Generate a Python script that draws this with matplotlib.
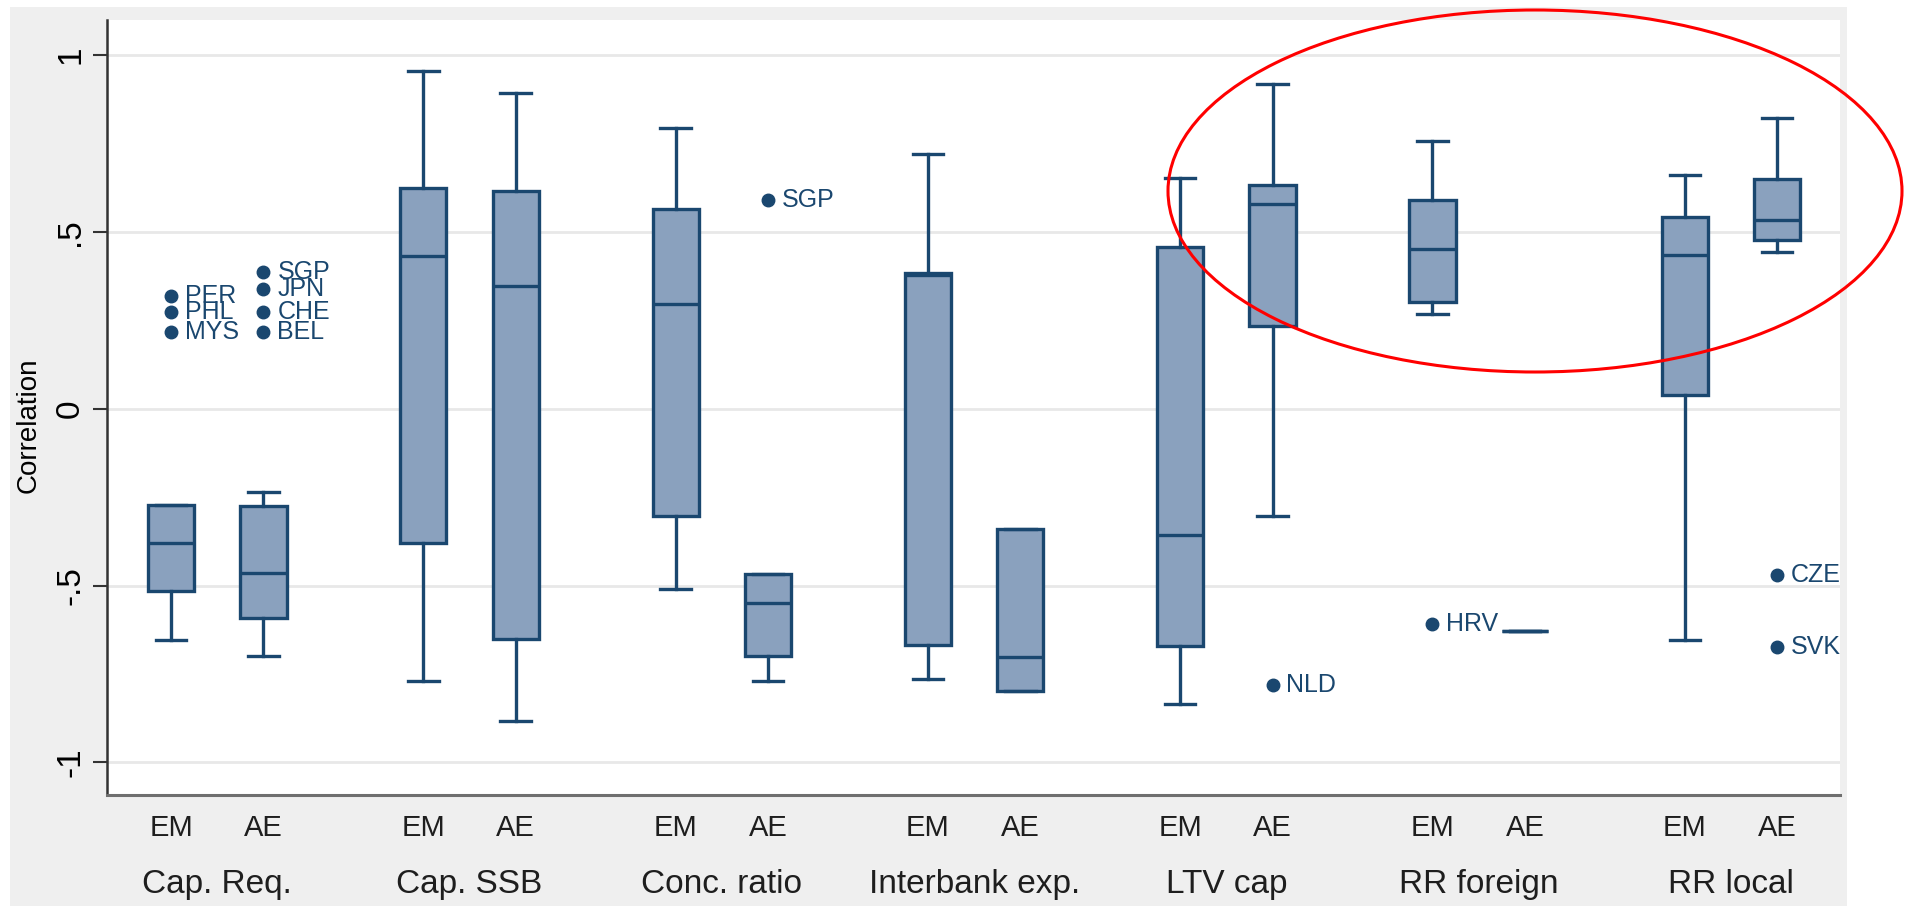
import numpy as np
import matplotlib.pyplot as plt
from matplotlib.patches import Ellipse, Rectangle
from matplotlib.transforms import blended_transform_factory

plt.rcParams['font.family'] = ['Liberation Sans', 'DejaVu Sans']

# correlation box plots by policy tool, emerging (EM) vs advanced (AE) economies
groups = ["Cap. Req.", "Cap. SSB", "Conc. ratio", "Interbank exp.",
          "LTV cap", "RR foreign", "RR local"]
sides = ["EM", "AE"]

em_whislo = [-0.655, -0.771, -0.510, -0.763, -0.836, 0.269, -0.654]
em_q1     = [-0.514, -0.379, -0.302, -0.667, -0.670, 0.301, 0.038]
em_med    = [-0.379, 0.432, 0.296, 0.378, -0.356, 0.451, 0.435]
em_q3     = [-0.271, 0.624, 0.566, 0.383, 0.456, 0.589, 0.543]
em_whishi = [-0.271, 0.954, 0.793, 0.721, 0.652, 0.758, 0.660]

ae_whislo = [-0.700, -0.882, -0.771, -0.797, -0.303, -0.629, 0.443]
ae_q1     = [-0.591, -0.650, -0.699, -0.797, 0.233, -0.629, 0.476]
ae_med    = [-0.463, 0.347, -0.549, -0.703, 0.579, -0.629, 0.533]
ae_q3     = [-0.275, 0.615, -0.467, -0.340, 0.633, -0.629, 0.649]
ae_whishi = [-0.235, 0.894, -0.467, -0.340, 0.917, -0.629, 0.822]

# outside values: group index, side (0 = EM, 1 = AE), value, country
out_group = [0, 0, 0, 0, 0, 0, 0, 2, 4, 5, 6, 6]
out_side  = [0, 0, 0, 1, 1, 1, 1, 1, 1, 0, 1, 1]
out_value = [0.319, 0.274, 0.218, 0.386, 0.339, 0.273, 0.217,
             0.590, -0.781, -0.609, -0.469, -0.673]
out_label = ["PER", "PHL", "MYS", "SGP", "JPN", "CHE", "BEL",
             "SGP", "NLD", "HRV", "CZE", "SVK"]

yticks = [-1, -0.5, 0, 0.5, 1]
ytick_labels = ["-1", "-.5", "0", ".5", "1"]

navy = "#1a476f"
fill = "#8aa1be"

W, H = 1905, 906
fig = plt.figure(figsize=(W / 100, H / 100), dpi=100)
fig.patches.append(Rectangle((10 / W, 0), 1837 / W, 899 / H, transform=fig.transFigure,
                             facecolor="#efefef", edgecolor="none", zorder=-10))
ax = fig.add_axes([107 / W, 111 / H, 1733 / W, 775 / H])
ax.set_facecolor("white")

gap = 2.73
em_pos = np.arange(len(groups)) * gap
ae_pos = em_pos + 1


def make_stats(lo, q1, med, q3, hi):
    return [dict(whislo=a, q1=b, med=c, q3=d, whishi=e, fliers=[])
            for a, b, c, d, e in zip(lo, q1, med, q3, hi)]


stats = (make_stats(em_whislo, em_q1, em_med, em_q3, em_whishi)
         + make_stats(ae_whislo, ae_q1, ae_med, ae_q3, ae_whishi))
positions = list(em_pos) + list(ae_pos)
lw = 2.4
ax.bxp(stats, positions=positions, widths=0.5, capwidths=0.33,
       patch_artist=True, showfliers=False, manage_ticks=False,
       boxprops=dict(facecolor=fill, edgecolor=navy, linewidth=lw),
       medianprops=dict(color=navy, linewidth=lw),
       whiskerprops=dict(color=navy, linewidth=lw),
       capprops=dict(color=navy, linewidth=lw))

side_pos = [em_pos, ae_pos]
for g, s, v, lab in zip(out_group, out_side, out_value, out_label):
    x = side_pos[s][g]
    ax.plot(x, v, "o", color=navy, markersize=9, zorder=4)
    ax.text(x + 0.15, v, lab, color=navy, fontsize=18, va="center", ha="left", zorder=4)

ax.set_xlim(-0.693, 18.06)
ax.set_ylim(-1.092, 1.099)
ax.set_yticks(yticks)
ax.set_yticklabels(ytick_labels, rotation=90, va="center", fontsize=24)
ax.set_ylabel("Correlation", fontsize=20)
ax.yaxis.set_label_coords(-0.038, 0.477)
ax.grid(axis="y", color="#e8e8e8", linewidth=2)
ax.set_axisbelow(True)
ax.tick_params(axis="y", length=10, width=1.5, color="#333333", pad=5)
ax.set_xticks([])

for side in ["top", "right"]:
    ax.spines[side].set_visible(False)
ax.spines["left"].set_color("#333333")
ax.spines["left"].set_linewidth(1.8)
ax.spines["bottom"].set_color("#6f6f6f")
ax.spines["bottom"].set_linewidth(2.2)

trans = blended_transform_factory(ax.transData, ax.transAxes)
for i, name in enumerate(groups):
    for s, lab in enumerate(sides):
        ax.text(side_pos[s][i], -0.043, lab, transform=trans, ha="center", va="center",
                fontsize=21, color="#1e1e1e")
    ax.text((em_pos[i] + ae_pos[i]) / 2, -0.116, name, transform=trans, ha="center",
            va="center", fontsize=24, color="#1e1e1e")

fig.add_artist(Ellipse((1535 / W, 1 - 191 / H), 734 / W, 362 / H, transform=fig.transFigure,
                       fill=False, edgecolor="red", linewidth=2.2, zorder=10))

fig.savefig("out.png", dpi=100)
